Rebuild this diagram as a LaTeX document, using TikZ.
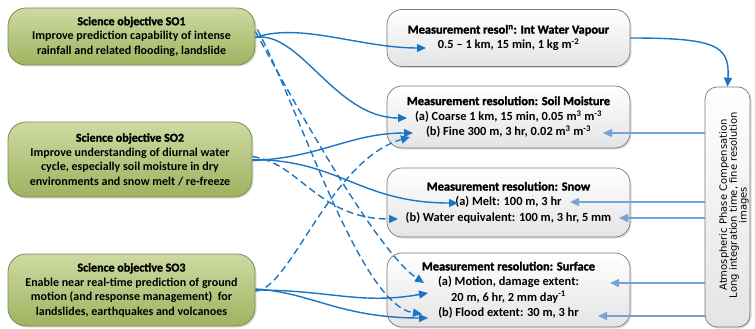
\documentclass[tikz,border=0pt]{standalone}
\usepackage{fontspec}
\setmainfont{Carlito}
\newfontfamily\vfont{DejaVu Sans}
\newfontfamily\heavy[FakeBold=1.6]{Carlito Bold}
\usetikzlibrary{arrows.meta,shadows,calc}
\definecolor{dblue}{HTML}{1B75C2}
\definecolor{lblue}{HTML}{74A4D6}
\definecolor{gborder}{RGB}{125,140,80}
\definecolor{gtop}{RGB}{206,218,162}
\definecolor{gbot}{RGB}{158,179,96}
\definecolor{wborder}{RGB}{120,120,120}
\definecolor{wbot}{RGB}{228,228,228}
\begin{document}
\begin{tikzpicture}[x=1pt,y=-1pt,
  sci/.style={draw=gborder, line width=0.8pt, rounded corners=18pt,
    top color=gtop, bottom color=gbot, align=center, inner sep=0pt,
    font=\bfseries\fontsize{12}{14.5}\selectfont,
    drop shadow={opacity=0.25, shadow xshift=1.5pt, shadow yshift=-1.5pt}},
  meas/.style={draw=wborder, line width=0.7pt, rounded corners=15pt,
    top color=white, bottom color=wbot, align=center, inner sep=0pt,
    minimum width=243pt, font=\bfseries\fontsize{12.4}{15.3}\selectfont,
    drop shadow={opacity=0.25, shadow xshift=1.5pt, shadow yshift=-1.5pt}},
  vbox/.style={draw=wborder, line width=0.7pt, rounded corners=12pt,
    top color=white, bottom color=wbot, inner sep=0pt,
    drop shadow={opacity=0.25, shadow xshift=1.5pt, shadow yshift=-1.5pt}},
  vtext/.style={rotate=90, align=center, inner sep=0pt,
    font=\vfont\fontsize{10}{9.8}\selectfont},
  sol/.style={draw=dblue, line width=1.4pt, -{Triangle[width=8pt,length=9pt]}},
  dsh/.style={sol, dash pattern=on 7pt off 4pt},
  lb/.style={draw=lblue, line width=1.4pt, -{Triangle[width=8pt,length=9pt]}}]
\useasboundingbox (0,0) rectangle (755,329);

% left: science objectives
\node[sci, minimum width=247pt, minimum height=57pt] (so1) at (131.5,36.5)
  {{\heavy Science objective SO1}\\Improve prediction capability of intense\\rainfall and related flooding, landslide};
\node[sci, minimum width=244pt, minimum height=75pt] (so2) at (130,159.5)
  {{\heavy Science objective SO2}\\Improve understanding of diurnal water\\cycle, especially soil moisture in dry\\environments and snow melt / re-freeze};
\node[sci, minimum width=247pt, minimum height=72pt] (so3) at (131.5,290)
  {{\heavy Science objective SO3}\\Enable near real-time prediction of ground\\motion (and response management)\ \ for\\landslides, earthquakes and volcanoes};

% right: measurement resolutions
\node[meas, minimum height=57pt] (wv) at (508.5,38)
  {{\heavy Measurement resol\textsuperscript{n}: Int Water Vapour}\\0.5 -- 1 km, 15 min, 1 kg m\textsuperscript{-2}};
\node[meas, minimum height=62pt] (sm) at (508.5,117)
  {{\heavy Measurement resolution: Soil Moisture}\\(a) Coarse 1 km, 15 min, 0.05 m\textsuperscript{3} m\textsuperscript{-3}\\(b) Fine 300 m, 3 hr, 0.02 m\textsuperscript{3} m\textsuperscript{-3}};
\node[meas, minimum height=69pt] (sn) at (508.5,202.5)
  {{\heavy Measurement resolution: Snow}\\(a) Melt: 100 m, 3 hr\\(b) Water equivalent: 100 m, 3 hr, 5 mm};
\node[meas, minimum height=74pt] (su) at (508.5,290)
  {{\heavy Measurement resolution: Surface}\\(a) Motion, damage extent:\\20 m, 6 hr, 2 mm day\textsuperscript{-1}\\(b) Flood extent: 30 m, 3 hr};

% vertical box
\node[vbox, rotate=90, minimum width=240pt, minimum height=45pt] (apc) at (727.5,207) {};
\node[vtext] (apct) at (734,205)
  {Atmospheric Phase Compensation\\Long integration time, fine resolution\\images};

% arrow end points inside the measurement boxes
\coordinate (wvin) at (426,48);
\coordinate (sma) at (407,118);
\coordinate (smb) at (413,133);
\coordinate (smbd) at (410,137);
\coordinate (sna) at (458,203);
\coordinate (snb) at (398,219);
\coordinate (sua) at (428,293);
\coordinate (suad) at (424,283);
\coordinate (sub) at (428,318);
\coordinate (subd) at (422,314);
\coordinate (smbr) at (603,133);
\coordinate (snar) at (570,202);
\coordinate (snbr) at (619,218);
\coordinate (suar) at (610,283);
\coordinate (subr) at (598,316);

% SO1 connectors
\draw[sol] ([yshift=-1pt]so1.east) .. controls (300,22) and (360,48) .. (wvin);
\draw[sol] ([yshift=-1pt]so1.east) .. controls (300,30) and (335,118) .. (sma);
\draw[dsh] ([yshift=5pt]so1.east) .. controls (290,95) and (375,250) .. (suad);
\draw[dsh] ([xshift=2pt,yshift=7pt]so1.east) .. controls (300,110) and (360,305) .. (subd);

% SO2 connectors
\draw[sol] ([yshift=-1pt]so2.east) .. controls (320,158) and (350,133) .. (smb);
\draw[sol] (so2.east) .. controls (340,160) and (360,203) .. (sna);
\draw[dsh] ([yshift=3pt]so2.east) .. controls (300,163) and (318,219) .. (snb);

% SO3 connectors
\draw[dsh] ([yshift=-1pt]so3.east) .. controls (290,290) and (330,160) .. (smbd);
\draw[sol] (so3.east) .. controls (330,290) and (360,305) .. (sua);
\draw[sol] ([yshift=1pt]so3.east) .. controls (310,292) and (340,318) .. (sub);

% water vapour to phase compensation
\draw[sol] (wv.east) .. controls (715,38) and (730,45) .. (apc.east);

% phase compensation back to resolutions
\draw[lb] (apc.north |- smbr) -- (smbr);
\draw[lb] (apc.north |- snar) -- (snar);
\draw[lb] (apc.north |- snbr) -- (snbr);
\draw[lb] (apc.north |- suar) -- (suar);
\draw[lb] (apc.north |- subr) -- (subr);
\end{tikzpicture}
\end{document}
